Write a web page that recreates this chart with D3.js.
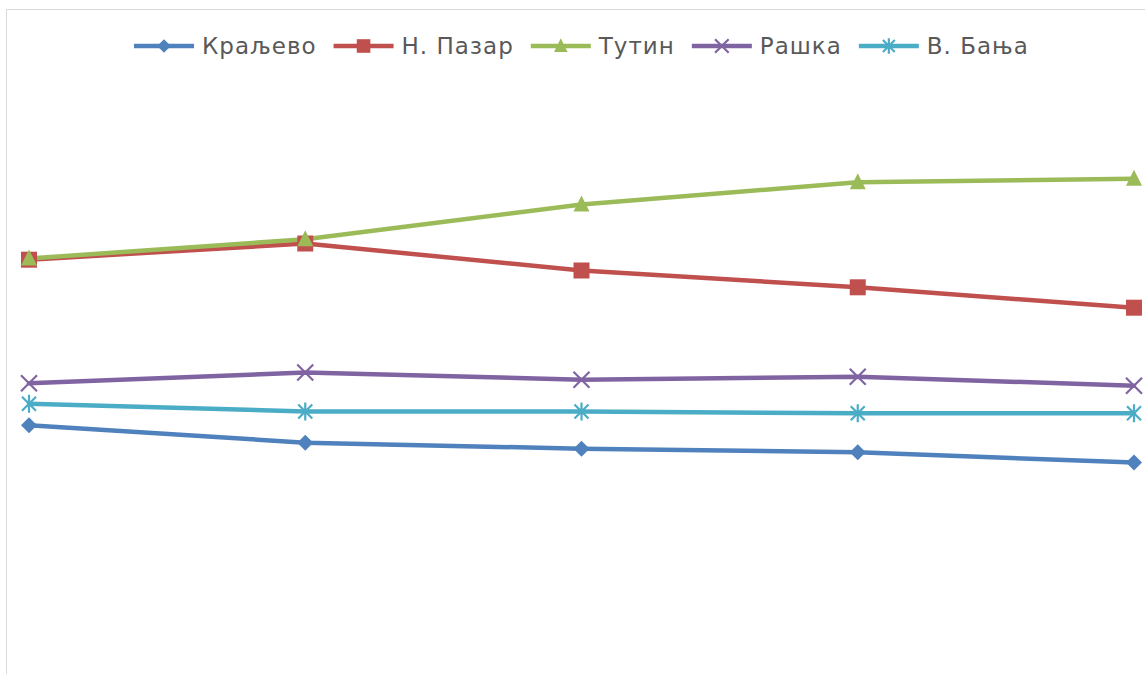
<!DOCTYPE html>
<html><head><meta charset="utf-8">
<script src="https://cdn.jsdelivr.net/npm/d3@7"></script>
<style>body{margin:0;background:#fff;}svg{display:block;}</style>
</head><body>
<script>
const categories = ["1", "2", "3", "4", "5"];
const seriesNames = ["Краљево", "Н. Пазар", "Тутин", "Рашка", "В. Бања"];
const kraljevo = [44.2, 41.3, 40.3, 39.7, 38.0];
const noviPazar = [71.8, 74.5, 70.0, 67.2, 63.8];
const tutin = [72.0, 75.2, 81.0, 84.7, 85.3];
const raska = [51.2, 53.0, 51.8, 52.3, 50.8];
const vBanja = [47.8, 46.5, 46.5, 46.2, 46.2];
const seriesValues = [kraljevo, noviPazar, tutin, raska, vBanja];
const colors = ["#4f81bd", "#c0504d", "#9bbb59", "#8064a2", "#4bacc6"];
const markers = ["diamond", "square", "triangle", "x", "star"];

const W = 1145, H = 674;
const svg = d3.select("body").append("svg").attr("width", W).attr("height", H);
svg.append("rect").attr("x", 6.5).attr("y", 9.5).attr("width", W + 10).attr("height", H + 10)
  .attr("fill", "none").attr("stroke", "#d9d9d9").attr("stroke-width", 1);

const x = d3.scalePoint().domain(categories).range([29, 1134]);
const y = d3.scaleLinear().domain([0, 100]).range([690.5, 90.5]);

function drawMarker(g, type, color, cx, cy, scale) {
  const s = scale || 1;
  if (type === "diamond") {
    g.append("path").attr("d", `M${cx},${cy - 8 * s}L${cx + 8 * s},${cy}L${cx},${cy + 8 * s}L${cx - 8 * s},${cy}Z`).attr("fill", color);
  } else if (type === "square") {
    g.append("rect").attr("x", cx - 8 * s).attr("y", cy - 8 * s).attr("width", 16 * s).attr("height", 16 * s).attr("fill", color);
  } else if (type === "triangle") {
    g.append("path").attr("d", `M${cx},${cy - 9 * s}L${cx + 8 * s},${cy + 7 * s}L${cx - 8 * s},${cy + 7 * s}Z`).attr("fill", color);
  } else if (type === "x") {
    g.append("path").attr("d", `M${cx - 8 * s},${cy - 8 * s}L${cx + 8 * s},${cy + 8 * s}M${cx + 8 * s},${cy - 8 * s}L${cx - 8 * s},${cy + 8 * s}`)
      .attr("stroke", color).attr("stroke-width", 2.2).attr("fill", "none");
  } else if (type === "star") {
    g.append("path").attr("d", `M${cx - 7 * s},${cy - 7 * s}L${cx + 7 * s},${cy + 7 * s}M${cx + 7 * s},${cy - 7 * s}L${cx - 7 * s},${cy + 7 * s}M${cx},${cy - 9 * s}L${cx},${cy + 9 * s}`)
      .attr("stroke", color).attr("stroke-width", 2.2).attr("fill", "none");
  }
}

const line = d3.line().x((d, i) => x(categories[i])).y(d => y(d));
const plot = svg.append("g");
seriesValues.forEach((vals, si) => {
  plot.append("path").attr("d", line(vals)).attr("fill", "none").attr("stroke", colors[si])
    .attr("stroke-width", 4.5).attr("stroke-linecap", "round").attr("stroke-linejoin", "round");
});
seriesValues.forEach((vals, si) => {
  const g = plot.append("g");
  vals.forEach((v, i) => drawMarker(g, markers[si], colors[si], x(categories[i]), y(v)));
});

// legend
const legend = svg.append("g");
let cursor = 0;
const lineLen = 60, gapAfterLine = 8, gapBetween = 17, ly = 46;
seriesNames.forEach((name, i) => {
  const g = legend.append("g");
  g.append("line").attr("x1", cursor).attr("x2", cursor + lineLen).attr("y1", ly).attr("y2", ly)
    .attr("stroke", colors[i]).attr("stroke-width", 4.5);
  drawMarker(g, markers[i], colors[i], cursor + lineLen / 2, ly, 0.85);
  const t = g.append("text").attr("x", cursor + lineLen + gapAfterLine).attr("y", ly).attr("dy", "0.36em")
    .attr("font-family", "DejaVu Sans").attr("font-size", 23).attr("letter-spacing", 1.0).attr("fill", "#595959").text(name);
  const w = t.node().getComputedTextLength();
  cursor += lineLen + gapAfterLine + w + gapBetween;
});
legend.attr("transform", `translate(${134},0)`);
</script>
</body></html>
